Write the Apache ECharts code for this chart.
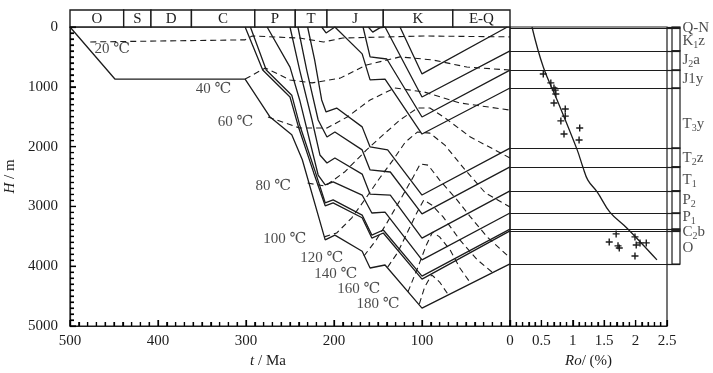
<!DOCTYPE html>
<html><head><meta charset="utf-8">
<style>html,body{margin:0;padding:0;background:#fff}#c{width:713px;height:373px}</style>
<script src="https://cdn.jsdelivr.net/npm/echarts@6/dist/echarts.min.js"></script>
</head><body><div id="c"></div><script>
// ---- Geological periods (Ma) ----
const periodNames = ['O','S','D','C','P','T','J','K','E-Q'];
const periodBounds = [500,439,408,362,290,244,208,144,65,0];

// ---- Burial curves: [t (Ma), H (m)] ----
const burialO   = [[500,0],[449,870],[301,870],[273,1500],[248,1800],[236,2220],[210,3560],[199,3480],[168,3750],[159,4030],[142,3980],[100,4700],[0,3960]];
const burialC2b = [[301,0],[281,720],[250,1170],[240,1690],[223,2440],[210,2990],[201,2940],[168,3190],[157,3530],[144,3445],[100,4215],[0,3410]];
const burialP1  = [[295,0],[277,720],[248,1140],[239,1640],[222,2390],[210,2940],[201,2890],[168,3145],[157,3480],[144,3395],[100,4165],[0,3380]];
const burialP2  = [[276,0],[250,670],[239,1220],[218,2475],[210,2640],[201,2590],[168,2810],[157,3110],[142,3095],[100,3895],[0,3110]];
const burialT1  = [[250,0],[239,720],[225,1555],[216,2140],[208,2275],[199,2190],[168,2460],[159,2795],[136,2810],[100,3530],[0,2740]];
const burialT2z = [[241,0],[231,720],[218,1555],[208,1840],[199,1755],[168,2055],[159,2390],[136,2425],[100,3125],[0,2340]];
const burialT3y = [[230,0],[222,550],[214,1220],[209,1420],[197,1355],[168,1670],[159,2005],[139,2055],[100,2810],[0,2025]];
const burialJ1y = [[214,0],[209,100],[199,0],[168,450],[159,885],[142,870],[100,1790],[0,1020]];
const burialJ2a = [[167,0],[159,500],[140,535],[100,1505],[0,720]];
const burialK1z = [[161,0],[156,85],[148,15],[142,0],[100,1170],[0,400]];
const burialQN  = [[125,0],[100,785],[3,0]];

// ---- Isotherms: [t (Ma), H (m)] ----
const iso20  = [[477,250],[301,215],[293,150],[239,185],[212,250],[190,185],[98,150],[0,165]];
const iso40  = [[301,870],[278,685],[250,885],[225,935],[193,855],[163,635],[125,500],[88,550],[49,670],[0,720]];
const iso60  = [[275,1505],[239,1690],[208,1690],[185,1505],[159,1220],[131,1020],[98,1085],[57,1270],[0,1390]];
const iso80  = [[230,2610],[210,2660],[188,2425],[163,2055],[142,1775],[125,1555],[105,1355],[91,1355],[74,1520],[45,1840],[0,2190]];
const iso100 = [[211,3510],[197,3445],[180,3195],[163,2845],[148,2525],[133,2225],[119,1925],[105,1755],[91,1775],[74,1975],[51,2390],[28,2775],[0,3010]];
const iso120 = [[166,3830],[152,3560],[140,3280],[125,2895],[110,2510],[102,2290],[93,2310],[80,2560],[60,2895],[45,3175],[26,3510],[0,3860]];
const iso140 = [[139,4015],[128,3780],[117,3445],[106,3110],[98,2895],[89,2975],[76,3175],[57,3560],[37,3895],[19,4115]];
const iso160 = [[116,4430],[105,4030],[95,3645],[88,3430],[80,3510],[68,3730],[57,4030],[45,4280]];
const iso180 = [[103,4630],[97,4350],[89,4145],[80,4265],[70,4480]];
const isoLabels = [[452,370,'20 ℃'],[337,1040,'40 ℃'],[312,1590,'60 ℃'],[269,2660,'80 ℃'],[256,3545,'100 ℃'],[214,3860,'120 ℃'],[198,4130,'140 ℃'],[172,4380,'160 ℃'],[150,4630,'180 ℃']];

// ---- Vitrinite reflectance: [Ro (%), H (m)] ----
const roCurve = [[0.35,0],[0.53,670],[0.75,1220],[1.07,2055],[1.16,2340],[1.24,2560],[1.39,2760],[1.59,3095],[1.86,3360],[2.12,3645],[2.34,3895]];
const roSamples = [[0.53,785],[0.65,935],[0.70,1020],[0.72,1055],[0.73,1120],[0.70,1270],[0.88,1370],[0.88,1490],[0.81,1570],[1.11,1690],[0.86,1790],[1.10,1890],[1.69,3460],[1.58,3595],[1.72,3660],[1.74,3695],[1.99,3510],[2.01,3645],[2.07,3610],[2.17,3610],[1.99,3830]];

// ---- Present stratigraphic column ----
const layerNames = ['Q-N','K1z','J2a','J1y','T3y','T2z','T1','P2','P1','C2b','O'];
const layerRich  = ['{n|Q-N}','{n|K}{s|1}{n|z}','{n|J}{s|2}{n|a}','{n|J1y}','{n|T}{s|3}{n|y}','{n|T}{s|2}{n|z}','{n|T}{s|1}','{n|P}{s|2}','{n|P}{s|1}','{n|C}{s|2}{n|b}','{n|O}'];
const layerBases = [17,400,720,1020,2025,2340,2740,3110,3380,3410,3965];
const layerLabelDepth = [15,235,550,870,1620,2190,2560,2895,3180,3430,3695];

// ---- Axis ticks: [min, max, major step, minor step] ----
const tAxisTicks  = [0,500,100,10];
const hAxisTicks  = [0,5000,1000,100];
const roAxisTicks = [0,2.5,0.5,0.1];

const FONT = '"Liberation Serif","DejaVu Serif",serif';
const INK = '#1c1c1c';
const chart = echarts.init(document.getElementById('c'));

const burial = [burialO,burialC2b,burialP1,burialP2,burialT1,burialT2z,burialT3y,burialJ1y,burialJ2a,burialK1z,burialQN];
const isos = [iso20,iso40,iso60,iso80,iso100,iso120,iso140,iso160,iso180];

function tickList(spec){
  const [mn,mx,maj,mnr]=spec, out=[], n=Math.round((mx-mn)/mnr);
  for(let i=0;i<=n;i++){ const v=+(mn+i*mnr).toFixed(6); const isMaj=Math.abs(v/maj-Math.round(v/maj))<1e-6; out.push([v,isMaj?6:4]); }
  return out;
}

const series = [];
burial.forEach(d=>series.push({type:'line',xAxisIndex:0,yAxisIndex:0,data:d,symbol:'none',silent:true,z:3,
  lineStyle:{color:INK,width:1.3}}));
isos.forEach(d=>series.push({type:'line',xAxisIndex:0,yAxisIndex:0,data:d,symbol:'none',silent:true,z:2,
  lineStyle:{color:INK,width:1.1,type:[6,4]}}));
series.push({type:'scatter',xAxisIndex:0,yAxisIndex:0,data:isoLabels.map(a=>[a[0],a[1]]),symbolSize:1,
  itemStyle:{color:'rgba(0,0,0,0)'},silent:true,z:5,
  label:{show:true,position:'inside',formatter:p=>isoLabels[p.dataIndex][2],color:INK,fontFamily:FONT,fontSize:15}});

// inward axis ticks drawn through the axes' own scales
const yTicks = tickList(hAxisTicks), xTicks = tickList(tAxisTicks), rTicks = tickList(roAxisTicks);
series.push({type:'custom',xAxisIndex:0,yAxisIndex:0,silent:true,z:6,
  data:yTicks.map(t=>[tAxisTicks[1],t[0],t[1]]),
  renderItem:(params,api)=>{ const p=api.coord([api.value(0),api.value(1)]);
    return {type:'line',shape:{x1:p[0],y1:p[1],x2:p[0]+api.value(2),y2:p[1]},style:{stroke:'#000',lineWidth:1.2}}; }});
series.push({type:'custom',xAxisIndex:0,yAxisIndex:0,silent:true,z:6,
  data:xTicks.map(t=>[t[0],hAxisTicks[1],t[1]]),
  renderItem:(params,api)=>{ const p=api.coord([api.value(0),api.value(1)]);
    return {type:'line',shape:{x1:p[0],y1:p[1],x2:p[0],y2:p[1]-api.value(2)},style:{stroke:'#000',lineWidth:1.2}}; }});
series.push({type:'custom',xAxisIndex:1,yAxisIndex:1,silent:true,z:6,
  data:rTicks.map(t=>[t[0],hAxisTicks[1],t[1]]),
  renderItem:(params,api)=>{ const p=api.coord([api.value(0),api.value(1)]);
    return {type:'line',shape:{x1:p[0],y1:p[1],x2:p[0],y2:p[1]-api.value(2)},style:{stroke:'#000',lineWidth:1.2}}; }});

// period bar
series.push({type:'custom',xAxisIndex:2,yAxisIndex:2,silent:true,
  data:periodNames.map((n,i)=>[periodBounds[i],periodBounds[i+1]]),
  renderItem:(params,api)=>{
    const a=api.coord([api.value(0),1]), b=api.coord([api.value(1),0]);
    return {type:'group',children:[
      {type:'rect',shape:{x:a[0],y:a[1],width:b[0]-a[0],height:b[1]-a[1]},style:{fill:'#fff',stroke:INK,lineWidth:1.4}},
      {type:'text',style:{x:(a[0]+b[0])/2,y:(a[1]+b[1])/2+1,text:periodNames[params.dataIndex],fill:INK,font:'15px '+FONT,align:'center',verticalAlign:'middle'}}
    ]};
  }});

// Ro curve and samples
series.push({type:'line',xAxisIndex:1,yAxisIndex:1,data:roCurve,symbol:'none',smooth:0.4,silent:true,
  lineStyle:{color:INK,width:1.3},
  markLine:{silent:true,symbol:['none','none'],label:{show:false},animation:false,
    lineStyle:{color:INK,width:1.2,type:'solid'},data:layerBases.map(d=>({yAxis:d}))}});
series.push({type:'scatter',xAxisIndex:1,yAxisIndex:1,data:roSamples,silent:true,
  symbol:'path://M4,0h2v4h4v2h-4v4h-2v-4h-4v-2h4z',symbolSize:7,itemStyle:{color:INK,opacity:1}});

// stratigraphic column
series.push({type:'custom',xAxisIndex:3,yAxisIndex:3,silent:true,
  data:layerBases.map((b,i)=>[i===0?0:layerBases[i-1],b]),
  renderItem:(params,api)=>{
    const a=api.coord([0.385,api.value(0)]), b=api.coord([1,api.value(1)]);
    return {type:'rect',shape:{x:a[0],y:a[1],width:b[0]-a[0],height:b[1]-a[1]},style:{fill:'none',stroke:INK,lineWidth:1.2}};
  },
  markLine:{silent:true,symbol:['none','none'],label:{show:false},animation:false,
    lineStyle:{color:INK,width:1.2,type:'solid'},data:[0].concat(layerBases).map(d=>({yAxis:d}))}});
series.push({type:'scatter',xAxisIndex:3,yAxisIndex:3,data:layerLabelDepth.map(d=>[1,d]),symbolSize:1,silent:true,
  itemStyle:{color:'rgba(0,0,0,0)'},
  label:{show:true,position:'right',distance:2,formatter:p=>layerRich[p.dataIndex],
    rich:{n:{fontFamily:FONT,fontSize:15,color:INK,lineHeight:18,verticalAlign:'middle'},
          s:{fontFamily:FONT,fontSize:10,color:INK,lineHeight:10,verticalAlign:'bottom'}}}});

function axisBase(split){
  return {
    axisLine:{show:true,onZero:false,lineStyle:{color:INK,width:1.2}},
    axisTick:{show:true,inside:true,length:6,lineStyle:{color:'#000',width:1.2}},
    minorTick:{show:true,splitNumber:split,length:4,lineStyle:{color:'#000',width:1.2}},
    splitLine:{show:false},minorSplitLine:{show:false}
  };
}
function hidden(){
  return {show:false,axisLine:{show:false,onZero:false},axisTick:{show:false},minorTick:{show:false},axisLabel:{show:false},splitLine:{show:false}};
}
const nameStyle = (pad)=>({color:INK,fontFamily:FONT,fontSize:15,padding:pad,
  rich:{i:{fontStyle:'italic',fontFamily:FONT,fontSize:15,color:INK}}});

chart.setOption({
  animation:false,
  backgroundColor:'#fff',
  grid:[
    {left:70,top:27,width:440,height:299,show:true,borderColor:INK,borderWidth:1.2,backgroundColor:'transparent',outerBoundsMode:'none',containLabel:false},
    {left:510,top:27,width:157,height:299,show:true,borderColor:INK,borderWidth:1.2,backgroundColor:'transparent',outerBoundsMode:'none',containLabel:false},
    {left:70,top:10,width:440,height:17,outerBoundsMode:'none',containLabel:false},
    {left:667,top:27,width:13,height:299,outerBoundsMode:'none',containLabel:false}
  ],
  xAxis:[
    Object.assign({gridIndex:0,type:'value',min:tAxisTicks[0],max:tAxisTicks[1],interval:tAxisTicks[2],inverse:true,
      axisLabel:{color:INK,fontFamily:FONT,fontSize:15,margin:8},
      name:'{i|t} / Ma',nameLocation:'middle',nameGap:25,nameTextStyle:nameStyle([0,44,0,0])},axisBase(10)),
    Object.assign({gridIndex:1,type:'value',min:roAxisTicks[0],max:roAxisTicks[1],interval:roAxisTicks[2],
      axisLabel:{color:INK,fontFamily:FONT,fontSize:15,margin:8,showMinLabel:false},
      name:'{i|Ro}/ (%)',nameLocation:'middle',nameGap:25,nameTextStyle:nameStyle([0,0,0,0])},axisBase(5)),
    Object.assign({gridIndex:2,type:'value',min:0,max:500,inverse:true},hidden()),
    Object.assign({gridIndex:3,type:'value',min:0,max:1},hidden())
  ],
  yAxis:[
    Object.assign({gridIndex:0,type:'value',min:hAxisTicks[0],max:hAxisTicks[1],interval:hAxisTicks[2],inverse:true,
      axisLabel:{color:INK,fontFamily:FONT,fontSize:15,margin:12,formatter:v=>String(v)},
      name:'{i|H} / m',nameLocation:'middle',nameGap:42,nameTextStyle:nameStyle([0,0,0,0])},axisBase(10)),
    Object.assign({gridIndex:1,type:'value',min:0,max:5000,inverse:true},hidden()),
    Object.assign({gridIndex:2,type:'value',min:0,max:1},hidden()),
    Object.assign({gridIndex:3,type:'value',min:0,max:5000,inverse:true},hidden())
  ],
  series
});
</script></body></html>
